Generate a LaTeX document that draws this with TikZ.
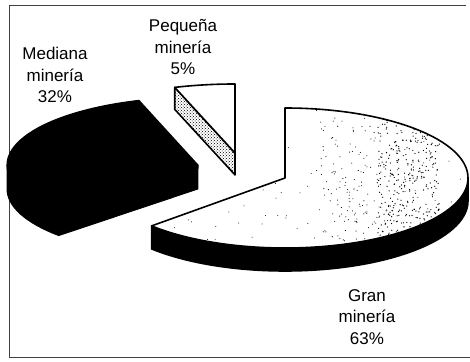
\documentclass[tikz,border=0pt]{standalone}
\usepackage{fontspec}
\setmainfont{Liberation Sans}
\usetikzlibrary{patterns}
\begin{document}
\begin{tikzpicture}[x=1pt,y=1pt,
  edge/.style={line width=1.6pt, line join=round},
  solid black/.style={fill=black, draw=black, line width=1pt, line join=round},
  lbl/.style={align=center, font=\fontsize{17}{21.5}\selectfont, inner sep=0pt},
  frameline/.style={line width=0.9pt, draw=black!75}]
\useasboundingbox (0,0) rectangle (470,361);
% frame
\coordinate (fTR) at (466,356);
\coordinate (fTL) at (9,356);
\coordinate (fBL) at (9,4);
\coordinate (fBR) at (470,4);
\draw[frameline] (fTR) -- (fTL) -- (fBL) -- (fBR);
% centres
\coordinate (G) at (285,183);
\coordinate (M) at (198,196);
\coordinate (V) at (235,208);
% Mediana mineria (black)
\path[solid black] (M) -- ([shift={(M)}]108:191 and 68)
  arc[start angle=108, end angle=223.2, x radius=191, y radius=68] -- cycle;
\path[solid black] ([shift={(M)}]180:191 and 68)
  arc[start angle=180, end angle=223.2, x radius=191, y radius=68] -- ++(0,-24)
  arc[start angle=223.2, end angle=180, x radius=191, y radius=68] -- cycle;
\path[solid black] (M) -- ([shift={(M)}]223.2:191 and 68) -- ++(0,-24) -- ++(139.2,46.6) -- cycle;
% Pequena mineria
\draw[edge, pattern=crosshatch dots] (V) -- ([shift={(V)}]108:195 and 69) -- ++(0,-22)
  -- ++(60.3,-65.6) -- cycle;
\draw[edge, fill=white] (V) -- ++(0,69)
  arc[start angle=90, end angle=108, x radius=195, y radius=69] -- cycle;
% Gran mineria side
\draw[edge, fill=black] ([shift={(G)}]0:183 and 70)
  arc[start angle=0, end angle=-136.8, x radius=183, y radius=70] -- ++(0,-23)
  arc[start angle=-136.8, end angle=0, x radius=183, y radius=70] -- cycle;
% Gran mineria top
\draw[edge, fill=white] (G) -- ++(0,70)
  arc[start angle=90, end angle=-136.8, x radius=183, y radius=70] -- cycle;
\begin{scope}
  \clip (G) -- ++(0,70)
    arc[start angle=90, end angle=-136.8, x radius=183, y radius=70] -- cycle;
  \pgfmathsetseed{11}
  \foreach \i in {1,...,380}{
    \pgfmathsetmacro\xx{378+62*rnd}
    \pgfmathsetmacro\yy{120+130*rnd}
    \fill[black] (\xx,\yy) circle[radius=0.65];
  }
  \foreach \i in {1,...,120}{
    \pgfmathsetmacro\xx{320+58*rnd}
    \pgfmathsetmacro\yy{120+130*rnd}
    \fill[black] (\xx,\yy) circle[radius=0.55];
  }
  \foreach \i in {1,...,110}{
    \pgfmathsetmacro\xx{150+318*rnd}
    \pgfmathsetmacro\yy{115+140*rnd}
    \fill[black] (\xx,\yy) circle[radius=0.5];
  }
\end{scope}
% labels
\node[lbl] (lmed) at (55,286) {Mediana\\minería\\32\%};
\node[lbl] (lpeq) at (183,314) {Pequeña\\minería\\5\%};
\node[lbl] (lgran) at (367,44) {Gran\\minería\\63\%};
\end{tikzpicture}
\end{document}
